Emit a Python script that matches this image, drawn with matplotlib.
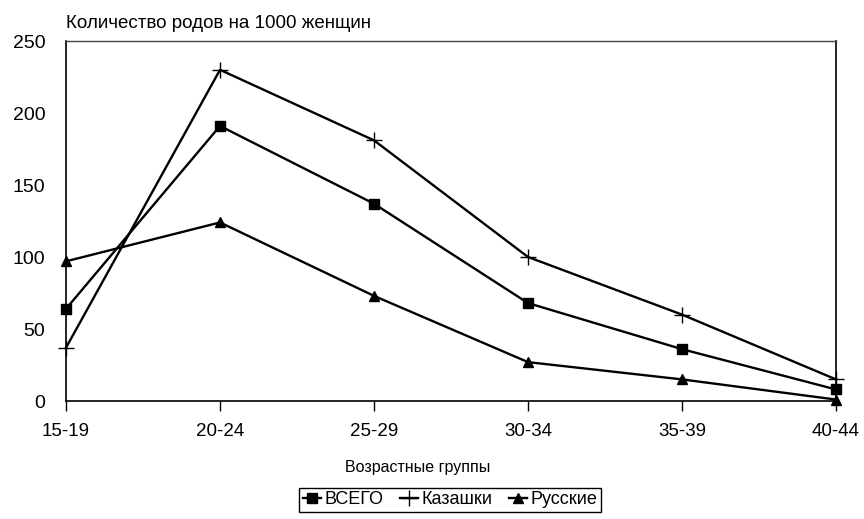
import matplotlib.pyplot as plt

plt.rcParams['font.family'] = ['Liberation Sans', 'DejaVu Sans']

# данные
groups = ['15-19', '20-24', '25-29', '30-34', '35-39', '40-44']
vsego = [64, 191, 137, 68, 36, 8]
kazashki = [37, 230, 181, 100, 60, 15]
russkie = [97, 124, 73, 27, 15, 1]

fig = plt.figure(figsize=(8.64, 5.19), dpi=100, facecolor='white')
ax = fig.add_axes([66/864, 1 - 401/519, 770/864, 360/519])

x = range(len(groups))
ax.plot(x, vsego, color='black', lw=1.7, marker='s', ms=7, label='ВСЕГО', clip_on=False)
ax.plot(x, kazashki, color='black', lw=1.7, marker='+', ms=12, mew=1.0, label='Казашки', clip_on=False)
ax.plot(x, russkie, color='black', lw=1.7, marker='^', ms=6.5, label='Русские', clip_on=False)

ax.set_xlim(0, 5)
ax.set_ylim(0, 250)
ax.set_xticks(list(x))
ax.set_xticklabels(groups, fontsize=13.5)
ax.set_yticks([0, 50, 100, 150, 200, 250])
ax.tick_params(axis='x', direction='out', length=7, width=1, pad=9)
ax.tick_params(axis='y', length=0, pad=15, labelsize=14)

for s in ax.spines.values():
    s.set_color('black')
    s.set_linewidth(1.2)
ax.spines['top'].set_linewidth(1.0)
ax.spines['top'].set_color('#444444')

ax.set_xlabel('Возрастные группы', fontsize=11.5)
ax.xaxis.set_label_coords((418 - 66) / 770, -0.165)

fig.text(66/864, 1 - 23/519, 'Количество родов на 1000 женщин',
         fontsize=13.5, va='center', ha='left')

fig.legend(loc='center', bbox_to_anchor=(450/864, 1 - 500/519), ncol=3,
           fontsize=13, handlelength=1.0, handletextpad=0.2, columnspacing=0.9,
           borderpad=0.2, fancybox=False, edgecolor='black', framealpha=1,
           borderaxespad=0)

fig.savefig('out.png', dpi=100, facecolor='white')
